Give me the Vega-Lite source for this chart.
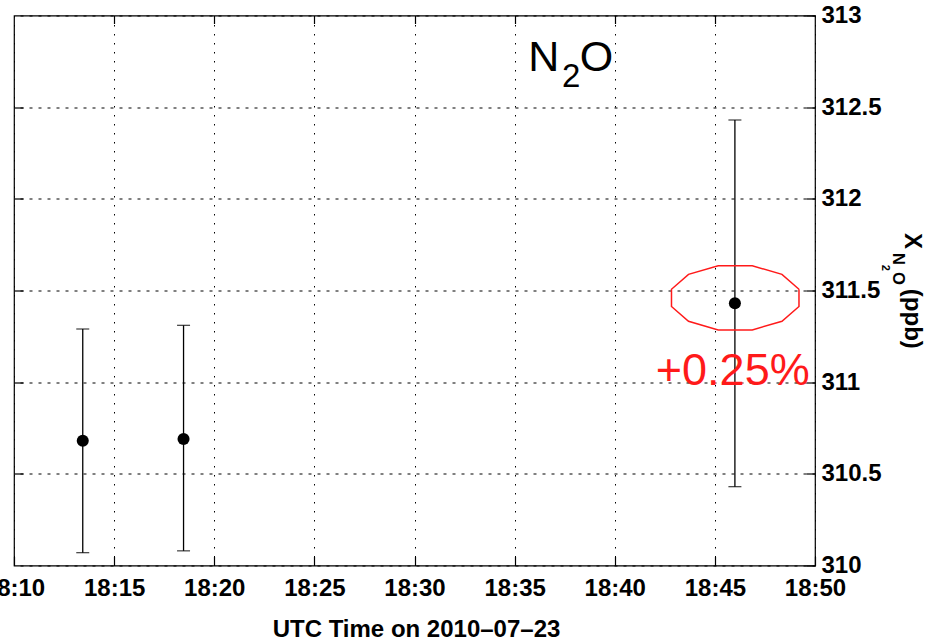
{
  "$schema": "https://vega.github.io/schema/vega-lite/v6.json",
  "width": 801,
  "height": 550,
  "autosize": {"type": "none"},
  "padding": {"left": 14, "top": 15.5, "right": 114, "bottom": 77.5},
  "background": "white",
  "config": {
    "view": {"stroke": "black", "strokeWidth": 1.2},
    "font": "Liberation Sans",
    "axis": {"labelFont": "Liberation Sans", "titleFont": "Liberation Sans", "labelColor": "black", "titleColor": "black", "tickColor": "black", "domain": false}
  },
  "datasets": {
    "pts": [
      {"t": "2010-07-23T18:13:26Z", "v": 310.68, "lo": 310.07, "hi": 311.29},
      {"t": "2010-07-23T18:18:28Z", "v": 310.69, "lo": 310.08, "hi": 311.31},
      {"t": "2010-07-23T18:46:00Z", "v": 311.43, "lo": 310.43, "hi": 312.43}
    ],
    "ell": [
      {"i": 0, "t": "2010-07-23T18:49:12Z", "v": 311.507},
      {"i": 1, "t": "2010-07-23T18:48:21Z", "v": 311.588},
      {"i": 2, "t": "2010-07-23T18:46:52Z", "v": 311.635},
      {"i": 3, "t": "2010-07-23T18:45:10Z", "v": 311.635},
      {"i": 4, "t": "2010-07-23T18:43:41Z", "v": 311.588},
      {"i": 5, "t": "2010-07-23T18:42:50Z", "v": 311.507},
      {"i": 6, "t": "2010-07-23T18:42:50Z", "v": 311.413},
      {"i": 7, "t": "2010-07-23T18:43:41Z", "v": 311.332},
      {"i": 8, "t": "2010-07-23T18:45:10Z", "v": 311.285},
      {"i": 9, "t": "2010-07-23T18:46:52Z", "v": 311.285},
      {"i": 10, "t": "2010-07-23T18:48:21Z", "v": 311.332},
      {"i": 11, "t": "2010-07-23T18:49:12Z", "v": 311.413},
      {"i": 12, "t": "2010-07-23T18:49:12Z", "v": 311.507}
    ],
    "big": [
      {"s": "N", "t": "2010-07-23T18:35:41Z", "v": 312.697},
      {"s": "O", "t": "2010-07-23T18:38:15Z", "v": 312.697}
    ],
    "sub": [
      {"s": "2", "t": "2010-07-23T18:37:22Z", "v": 312.612}
    ],
    "pct": [
      {"s": "+0.25%", "t": "2010-07-23T18:42:03Z", "v": 310.985}
    ],
    "ytitle": [
      {"s": "X", "t": "2010-07-23T18:54:30Z", "v": 311.814},
      {"s": "(ppb)", "t": "2010-07-23T18:54:30Z", "v": 311.509}
    ],
    "ysub": [
      {"s": "N", "t": "2010-07-23T18:53:54Z", "v": 311.705},
      {"s": "O", "t": "2010-07-23T18:53:54Z", "v": 311.601}
    ],
    "ysub2": [
      {"s": "2", "t": "2010-07-23T18:53:21Z", "v": 311.640}
    ]
  },
  "layer": [
    {
      "data": {"name": "pts"},
      "mark": {"type": "rule", "color": "black", "strokeWidth": 1.3},
      "encoding": {
        "x": {
          "field": "t", "type": "temporal",
          "scale": {"type": "utc", "nice": false, "domain": [
            {"year": 2010, "month": 7, "date": 23, "hours": 18, "minutes": 10, "utc": true},
            {"year": 2010, "month": 7, "date": 23, "hours": 18, "minutes": 50, "utc": true}]},
          "axis": {
            "orient": "bottom",
            "values": [
              {"year": 2010, "month": 7, "date": 23, "hours": 18, "minutes": 10, "utc": true},
              {"year": 2010, "month": 7, "date": 23, "hours": 18, "minutes": 15, "utc": true},
              {"year": 2010, "month": 7, "date": 23, "hours": 18, "minutes": 20, "utc": true},
              {"year": 2010, "month": 7, "date": 23, "hours": 18, "minutes": 25, "utc": true},
              {"year": 2010, "month": 7, "date": 23, "hours": 18, "minutes": 30, "utc": true},
              {"year": 2010, "month": 7, "date": 23, "hours": 18, "minutes": 35, "utc": true},
              {"year": 2010, "month": 7, "date": 23, "hours": 18, "minutes": 40, "utc": true},
              {"year": 2010, "month": 7, "date": 23, "hours": 18, "minutes": 45, "utc": true},
              {"year": 2010, "month": 7, "date": 23, "hours": 18, "minutes": 50, "utc": true}],
            "labelExpr": "utcFormat(datum.value, '%H:%M')",
            "labelFontSize": 24, "labelFontWeight": "bold", "labelPadding": 20,
            "labelFlush": false, "labelOverlap": false,
            "tickSize": -9, "tickWidth": 1.2,
            "grid": true, "gridColor": "black", "gridDash": [1.5, 7.5], "gridWidth": 1, "gridOpacity": 1,
            "title": "UTC Time on 2010–07–23", "titleFontSize": 24, "titleFontWeight": "bold",
            "titleBaseline": "alphabetic", "titleY": 70.5, "titleX": 402
          }
        },
        "y": {
          "field": "lo", "type": "quantitative",
          "scale": {"domain": [310, 313], "nice": false, "zero": false},
          "axis": {
            "orient": "right",
            "values": [310, 310.5, 311, 311.5, 312, 312.5, 313],
            "format": "~f",
            "labelFontSize": 24, "labelFontWeight": "bold", "labelPadding": 15,
            "labelFlush": false, "labelOverlap": false,
            "tickSize": -9, "tickWidth": 1.2,
            "grid": true, "gridColor": "black", "gridDash": [3, 6], "gridWidth": 1, "gridOpacity": 1,
            "title": null
          }
        },
        "y2": {"field": "hi"}
      }
    },
    {
      "data": {"name": "pts"},
      "mark": {"type": "tick", "orient": "horizontal", "color": "black", "size": 13, "thickness": 1.3},
      "encoding": {
        "x": {
          "field": "t", "type": "temporal",
          "scale": {"type": "utc", "nice": false, "domain": [
            {"year": 2010, "month": 7, "date": 23, "hours": 18, "minutes": 10, "utc": true},
            {"year": 2010, "month": 7, "date": 23, "hours": 18, "minutes": 50, "utc": true}]},
          "axis": {
            "orient": "top",
            "values": [
              {"year": 2010, "month": 7, "date": 23, "hours": 18, "minutes": 15, "utc": true},
              {"year": 2010, "month": 7, "date": 23, "hours": 18, "minutes": 20, "utc": true},
              {"year": 2010, "month": 7, "date": 23, "hours": 18, "minutes": 25, "utc": true},
              {"year": 2010, "month": 7, "date": 23, "hours": 18, "minutes": 30, "utc": true},
              {"year": 2010, "month": 7, "date": 23, "hours": 18, "minutes": 35, "utc": true},
              {"year": 2010, "month": 7, "date": 23, "hours": 18, "minutes": 40, "utc": true},
              {"year": 2010, "month": 7, "date": 23, "hours": 18, "minutes": 45, "utc": true}],
            "labels": false, "grid": false, "tickSize": -8, "tickWidth": 1.2, "title": null
          }
        },
        "y": {
          "field": "lo", "type": "quantitative",
          "scale": {"domain": [310, 313], "nice": false, "zero": false},
          "axis": {
            "orient": "left",
            "values": [310.5, 311, 311.5, 312, 312.5],
            "labels": false, "grid": false, "tickSize": -9, "tickWidth": 1.2, "title": null
          }
        }
      }
    },
    {
      "data": {"name": "pts"},
      "mark": {"type": "tick", "orient": "horizontal", "color": "black", "size": 13, "thickness": 1.3},
      "encoding": {
        "x": {"field": "t", "type": "temporal", "scale": {"type": "utc", "nice": false, "domain": [
            {"year": 2010, "month": 7, "date": 23, "hours": 18, "minutes": 10, "utc": true},
            {"year": 2010, "month": 7, "date": 23, "hours": 18, "minutes": 50, "utc": true}]}, "axis": null},
        "y": {"field": "hi", "type": "quantitative", "scale": {"domain": [310, 313], "nice": false, "zero": false}, "axis": null}
      }
    },
    {
      "data": {"name": "pts"},
      "mark": {"type": "circle", "color": "black", "opacity": 1, "size": 145},
      "encoding": {
        "x": {"field": "t", "type": "temporal", "scale": {"type": "utc", "nice": false, "domain": [
            {"year": 2010, "month": 7, "date": 23, "hours": 18, "minutes": 10, "utc": true},
            {"year": 2010, "month": 7, "date": 23, "hours": 18, "minutes": 50, "utc": true}]}, "axis": null},
        "y": {"field": "v", "type": "quantitative", "scale": {"domain": [310, 313], "nice": false, "zero": false}, "axis": null}
      }
    },
    {
      "data": {"name": "ell"},
      "mark": {"type": "line", "color": "#ff1a1a", "strokeWidth": 1.5, "clip": false},
      "encoding": {
        "x": {"field": "t", "type": "temporal", "scale": {"type": "utc", "nice": false, "domain": [
            {"year": 2010, "month": 7, "date": 23, "hours": 18, "minutes": 10, "utc": true},
            {"year": 2010, "month": 7, "date": 23, "hours": 18, "minutes": 50, "utc": true}]}, "axis": null},
        "y": {"field": "v", "type": "quantitative", "scale": {"domain": [310, 313], "nice": false, "zero": false}, "axis": null},
        "order": {"field": "i", "type": "quantitative"}
      }
    },
    {
      "data": {"name": "big"},
      "mark": {"type": "text", "font": "Liberation Sans", "fontSize": 43, "align": "left", "baseline": "alphabetic", "color": "black", "clip": false},
      "encoding": {
        "x": {"field": "t", "type": "temporal", "scale": {"type": "utc", "nice": false, "domain": [
            {"year": 2010, "month": 7, "date": 23, "hours": 18, "minutes": 10, "utc": true},
            {"year": 2010, "month": 7, "date": 23, "hours": 18, "minutes": 50, "utc": true}]}, "axis": null},
        "y": {"field": "v", "type": "quantitative", "scale": {"domain": [310, 313], "nice": false, "zero": false}, "axis": null},
        "text": {"field": "s"}
      }
    },
    {
      "data": {"name": "sub"},
      "mark": {"type": "text", "font": "Liberation Sans", "fontSize": 33, "align": "left", "baseline": "alphabetic", "color": "black", "clip": false},
      "encoding": {
        "x": {"field": "t", "type": "temporal", "scale": {"type": "utc", "nice": false, "domain": [
            {"year": 2010, "month": 7, "date": 23, "hours": 18, "minutes": 10, "utc": true},
            {"year": 2010, "month": 7, "date": 23, "hours": 18, "minutes": 50, "utc": true}]}, "axis": null},
        "y": {"field": "v", "type": "quantitative", "scale": {"domain": [310, 313], "nice": false, "zero": false}, "axis": null},
        "text": {"field": "s"}
      }
    },
    {
      "data": {"name": "pct"},
      "mark": {"type": "text", "font": "Liberation Sans", "fontSize": 45, "align": "left", "baseline": "alphabetic", "color": "#ff1a1a", "clip": false},
      "encoding": {
        "x": {"field": "t", "type": "temporal", "scale": {"type": "utc", "nice": false, "domain": [
            {"year": 2010, "month": 7, "date": 23, "hours": 18, "minutes": 10, "utc": true},
            {"year": 2010, "month": 7, "date": 23, "hours": 18, "minutes": 50, "utc": true}]}, "axis": null},
        "y": {"field": "v", "type": "quantitative", "scale": {"domain": [310, 313], "nice": false, "zero": false}, "axis": null},
        "text": {"field": "s"}
      }
    },
    {
      "data": {"name": "ytitle"},
      "mark": {"type": "text", "font": "Liberation Sans", "fontSize": 24, "fontWeight": "bold", "angle": 90, "align": "left", "baseline": "alphabetic", "color": "black", "clip": false},
      "encoding": {
        "x": {"field": "t", "type": "temporal", "scale": {"type": "utc", "nice": false, "domain": [
            {"year": 2010, "month": 7, "date": 23, "hours": 18, "minutes": 10, "utc": true},
            {"year": 2010, "month": 7, "date": 23, "hours": 18, "minutes": 50, "utc": true}]}, "axis": null},
        "y": {"field": "v", "type": "quantitative", "scale": {"domain": [310, 313], "nice": false, "zero": false}, "axis": null},
        "text": {"field": "s"}
      }
    },
    {
      "data": {"name": "ysub"},
      "mark": {"type": "text", "font": "Liberation Sans", "fontSize": 16.5, "fontWeight": "bold", "angle": 90, "align": "left", "baseline": "alphabetic", "color": "black", "clip": false},
      "encoding": {
        "x": {"field": "t", "type": "temporal", "scale": {"type": "utc", "nice": false, "domain": [
            {"year": 2010, "month": 7, "date": 23, "hours": 18, "minutes": 10, "utc": true},
            {"year": 2010, "month": 7, "date": 23, "hours": 18, "minutes": 50, "utc": true}]}, "axis": null},
        "y": {"field": "v", "type": "quantitative", "scale": {"domain": [310, 313], "nice": false, "zero": false}, "axis": null},
        "text": {"field": "s"}
      }
    },
    {
      "data": {"name": "ysub2"},
      "mark": {"type": "text", "font": "Liberation Sans", "fontSize": 11, "fontWeight": "bold", "angle": 90, "align": "left", "baseline": "alphabetic", "color": "black", "clip": false},
      "encoding": {
        "x": {"field": "t", "type": "temporal", "scale": {"type": "utc", "nice": false, "domain": [
            {"year": 2010, "month": 7, "date": 23, "hours": 18, "minutes": 10, "utc": true},
            {"year": 2010, "month": 7, "date": 23, "hours": 18, "minutes": 50, "utc": true}]}, "axis": null},
        "y": {"field": "v", "type": "quantitative", "scale": {"domain": [310, 313], "nice": false, "zero": false}, "axis": null},
        "text": {"field": "s"}
      }
    }
  ],
  "resolve": {"axis": {"x": "independent", "y": "independent"}}
}
